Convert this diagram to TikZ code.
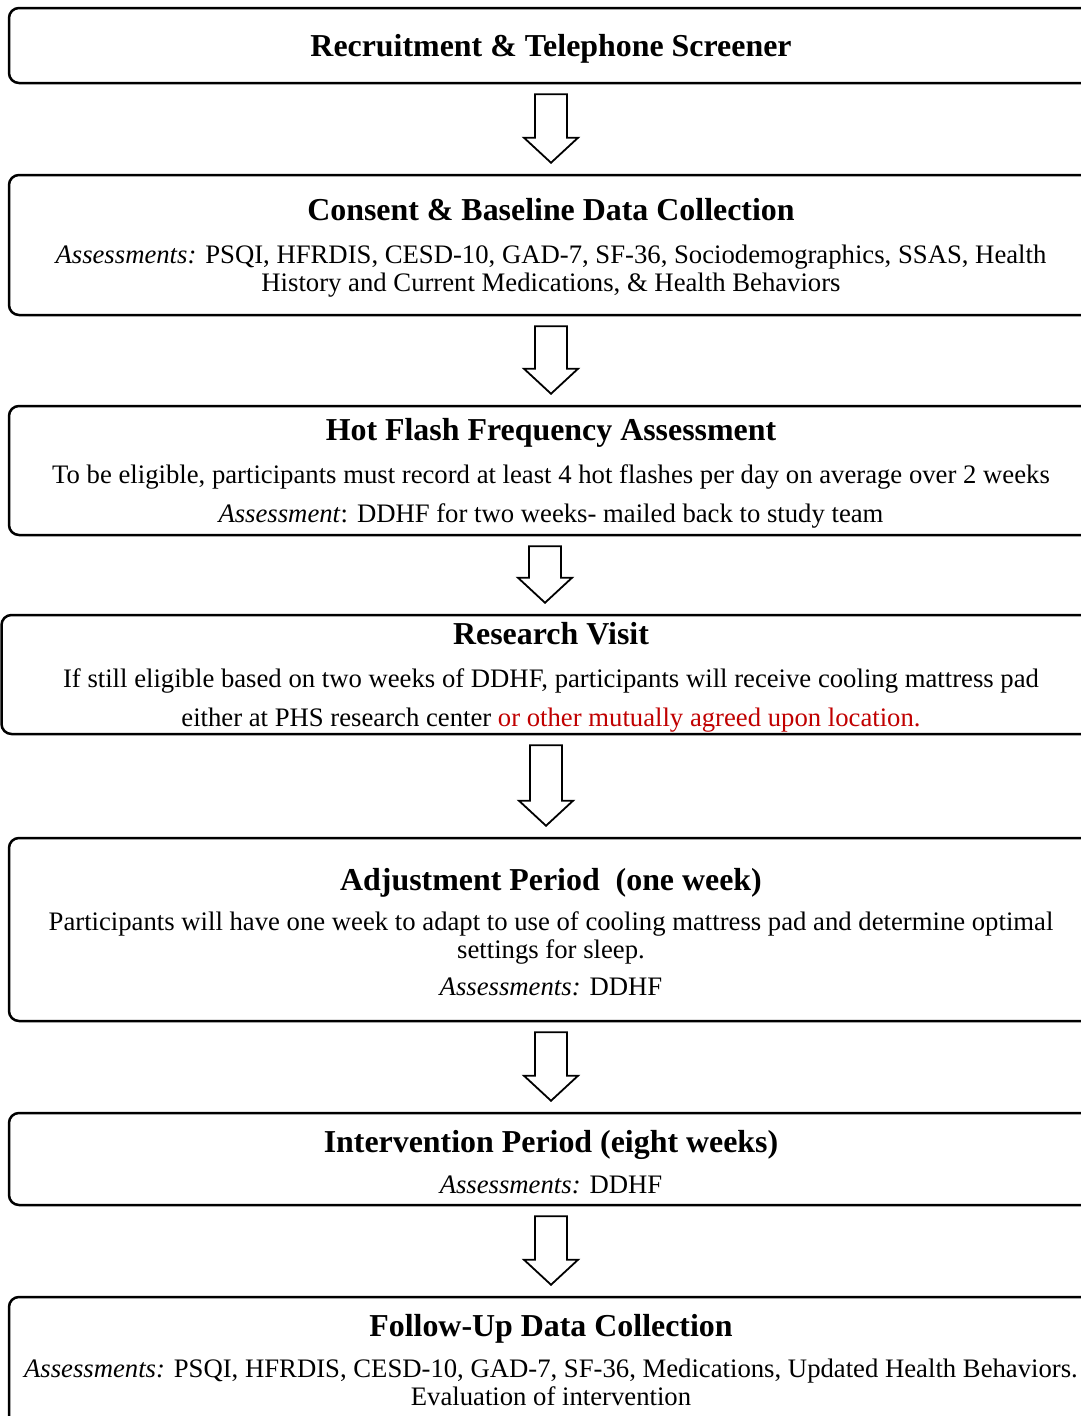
\documentclass[tikz,border=0pt]{standalone}
\usepackage{fontspec}
\setmainfont{Liberation Serif}
\usetikzlibrary{calc}

\definecolor{noteRed}{RGB}{192,0,0}
\newcommand{\stagetitle}[1]{{\fontsize{31.9}{28}\selectfont\bfseries\rule{0pt}{28pt}#1}}
% hollow block arrow between two stages
\newcommand{\flowarrow}[3]{%
  \path ($(#1.south)+(#3,10)$) coordinate (as) ($(#2.north)+(#3,-11)$) coordinate (ae);
  \draw[blockarr] ($(as)+(-16,0)$) -- ($(as)+(16,0)$) -- ($(ae)+(16,-25)$) -- ($(ae)+(27,-25)$)
    -- (ae) -- ($(ae)+(-27,-25)$) -- ($(ae)+(-16,-25)$) -- cycle;}

\begin{document}
\begin{tikzpicture}
  [x=1pt,y=-1pt,
   stage/.style={draw,line width=2.5pt,rounded corners=10pt,align=center,inner sep=0pt,
     minimum width=1084pt,font=\fontsize{26.7}{28}\selectfont},
   blockarr/.style={draw,line width=1.8pt,fill=white,line join=miter}]
  \useasboundingbox (0,0) rectangle (1081,1416);

  \node[stage,minimum height=75pt] (recruit) at (551,45.5) {\stagetitle{Recruitment \& Telephone Screener}};
  \node[stage,minimum height=140pt] (consent) at (551,245) {\stagetitle{Consent \& Baseline Data Collection}\\[15pt]
    \textit{Assessments:} PSQI, HFRDIS, CESD-10, GAD-7, SF-36, Sociodemographics, SSAS, Health\\
    History and Current Medications, \& Health Behaviors};
  \node[stage,minimum height=129pt] (hotflash) at (551,470.5) {\stagetitle{Hot Flash Frequency Assessment}\\[15pt]
    To be eligible, participants must record at least 4 hot flashes per day on average over 2 weeks\\[11pt]
    \textit{Assessment}: DDHF for two weeks- mailed back to study team};
  \node[stage,minimum height=119pt,minimum width=1099pt] (visit) at (551,674.5) {\stagetitle{Research Visit}\\[15pt]
    If still eligible based on two weeks of DDHF, participants will receive cooling mattress pad\\[11pt]
    either at PHS research center \textcolor{noteRed}{or other mutually agreed upon location.}};
  \node[stage,minimum height=183pt] (adjust) at (551,929.5) {\stagetitle{Adjustment Period\ \ (one week)}\\[12pt]
    Participants will have one week to adapt to use of cooling mattress pad and determine optimal\\
    settings for sleep.\\[9pt]
    \textit{Assessments:} DDHF};
  \node[stage,minimum height=92pt] (intervene) at (551,1159) {\stagetitle{Intervention Period (eight weeks)}\\[13pt]
    \textit{Assessments:} DDHF};
  \node[stage,minimum height=130pt] (followup) at (551,1362) {\stagetitle{Follow-Up Data Collection}\\[13pt]
    \textit{Assessments:} PSQI, HFRDIS, CESD-10, GAD-7, SF-36, Medications, Updated Health Behaviors.\\
    Evaluation of intervention\rule[-11pt]{0pt}{1pt}};

  \flowarrow{recruit}{consent}{0}
  \flowarrow{consent}{hotflash}{0}
  \flowarrow{hotflash}{visit}{-6}
  \flowarrow{visit}{adjust}{-5}
  \flowarrow{adjust}{intervene}{0}
  \flowarrow{intervene}{followup}{0}
\end{tikzpicture}
\end{document}
